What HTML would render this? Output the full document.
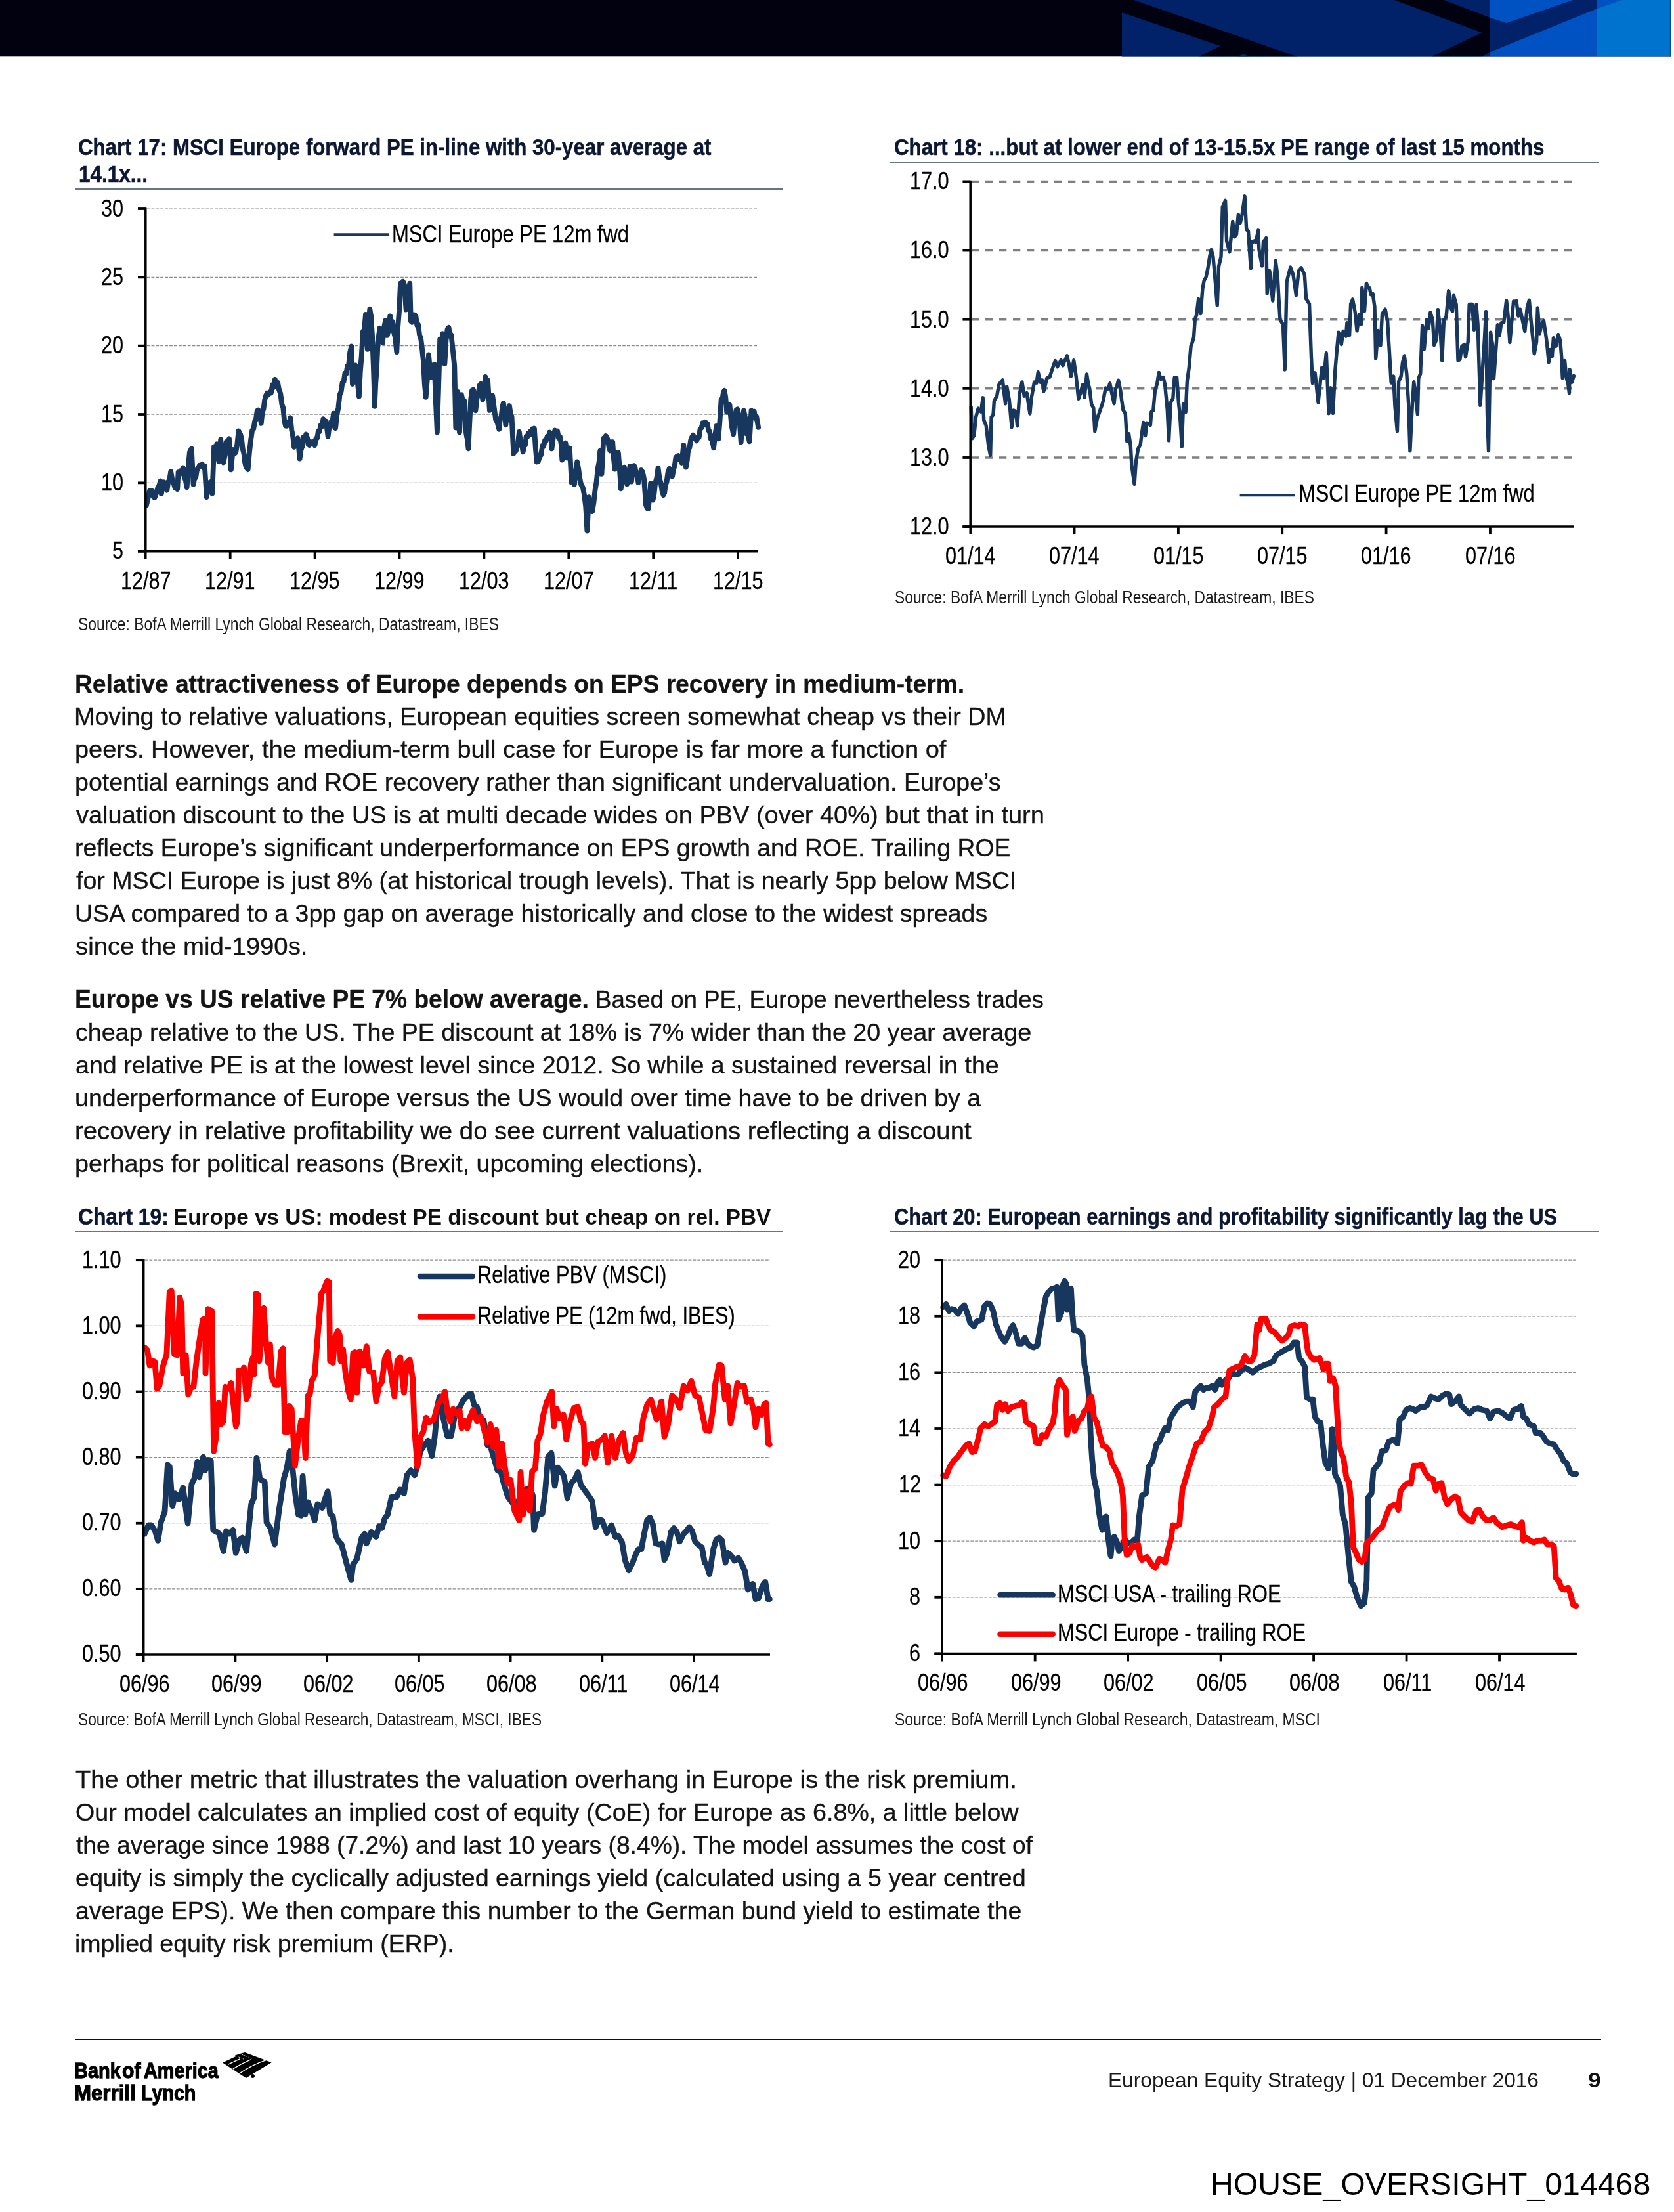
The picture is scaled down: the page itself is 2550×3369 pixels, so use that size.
<!DOCTYPE html>
<html><head><meta charset="utf-8"><title>European Equity Strategy - page 9</title>
<style>
html,body{margin:0;padding:0;background:#fff}
body{width:2550px;height:3369px;position:relative;overflow:hidden;font-family:"Liberation Sans",sans-serif}
.t{position:absolute;white-space:nowrap;line-height:1;transform-origin:0 0;display:block}
.hdr{position:absolute;left:0;top:0}
.charts{position:absolute;left:0;top:0}
.flag{position:absolute}
.rule{position:absolute}
.logo{-webkit-text-stroke:1.3px #000}
.ax{-webkit-text-stroke:0.3px #000}
.body{-webkit-text-stroke:0.35px #141414}
.ttl{-webkit-text-stroke:0.55px #0c1733}
#txt{position:absolute;left:0;top:0;width:2550px;height:3369px;will-change:transform}
</style></head><body>
<svg class="hdr" width="2550" height="87" viewBox="0 0 2550 87">
<rect x="0" y="0" width="2545" height="86.3" fill="#01010f"/>
<rect x="1709" y="0" width="561" height="86.3" fill="#012169"/>
<rect x="2270" y="0" width="162" height="86.3" fill="#0052c2"/>
<rect x="2432" y="0" width="113" height="86.3" fill="#0073cf"/>
<polygon points="1709,0 1727,0 1976,86.3 1826,86.3 1859,70 1709,19" fill="#01010f"/>
<polygon points="1885,86.3 1894,82 1903,86.3" fill="#012169"/>
<polygon points="2124.2,0 2199.5,0 2270,26.9 2270,79.3 2257,86.3 2180.6,86.3 2257.3,49.7" fill="#01010f"/>
<polygon points="2270,26.9 2294.9,34.9 2395.7,0 2432,0 2432,13.4 2270,79.3" fill="#012169"/>
<polygon points="2432,0 2471,0 2432,13.4" fill="#0052c2"/>
<rect x="1709" y="85.4" width="836" height="1.1" fill="#0a3f8f" opacity="0.8"/>
<rect x="2543.8" y="0" width="1.2" height="86.5" fill="#0a3f8f" opacity="0.8"/>
</svg>
<div class="rule" style="left:114px;top:287.2px;width:1079px;height:2px;background:#667682"></div>
<div class="rule" style="left:1356px;top:245.8px;width:1079px;height:2px;background:#667682"></div>
<div class="rule" style="left:114px;top:1874.9px;width:1079px;height:2px;background:#667682"></div>
<div class="rule" style="left:1356px;top:1874.9px;width:1079px;height:2px;background:#667682"></div>
<div class="rule" style="left:114px;top:3105px;width:2325px;height:2.2px;background:#0a0f2e"></div>
<svg class="charts" width="2550" height="3369" viewBox="0 0 2550 3369">
<line x1="223.60000000000002" y1="318.0" x2="1155" y2="318.0" stroke="#8c8c8c" stroke-width="1.25" stroke-dasharray="4.8,2.1"/>
<line x1="223.60000000000002" y1="422.34000000000003" x2="1155" y2="422.34000000000003" stroke="#8c8c8c" stroke-width="1.25" stroke-dasharray="4.8,2.1"/>
<line x1="223.60000000000002" y1="526.6800000000001" x2="1155" y2="526.6800000000001" stroke="#8c8c8c" stroke-width="1.25" stroke-dasharray="4.8,2.1"/>
<line x1="223.60000000000002" y1="631.02" x2="1155" y2="631.02" stroke="#8c8c8c" stroke-width="1.25" stroke-dasharray="4.8,2.1"/>
<line x1="223.60000000000002" y1="735.36" x2="1155" y2="735.36" stroke="#8c8c8c" stroke-width="1.25" stroke-dasharray="4.8,2.1"/>
<path d="M222.9,769.9 L225.8,757.5 L227.9,747.4 L230.1,746.9 L232.0,748.0 L233.9,757.0 L235.8,757.7 L238.7,749.2 L240.6,741.7 L242.5,739.2 L244.4,732.5 L245.8,752.1 L247.9,739.9 L250.1,734.4 L252.2,736.9 L254.4,746.7 L256.3,733.7 L258.3,730.4 L260.2,718.1 L262.4,730.6 L264.5,735.9 L266.4,742.5 L268.3,740.2 L270.2,745.0 L271.6,719.1 L273.4,722.6 L275.2,717.0 L277.0,718.8 L278.8,712.6 L280.7,726.2 L282.7,731.2 L284.6,742.1 L286.8,711.0 L288.9,688.8 L291.7,683.2 L294.6,737.9 L296.4,728.3 L298.2,727.3 L300.0,715.7 L301.8,713.3 L304.0,708.7 L306.1,709.1 L308.0,707.0 L309.9,712.7 L311.8,709.5 L314.7,757.1 L316.6,746.5 L318.5,744.8 L320.4,734.3 L323.3,751.7 L326.1,680.5 L328.2,683.3 L330.4,676.2 L333.3,702.6 L336.2,669.3 L338.4,691.0 L340.5,704.5 L342.6,693.3 L344.8,672.9 L347.0,674.4 L349.1,668.2 L351.9,715.4 L354.8,685.0 L357.0,691.3 L359.1,689.3 L361.2,677.8 L363.4,656.3 L366.3,661.9 L368.0,668.5 L369.7,684.0 L371.5,690.7 L373.2,704.9 L374.9,711.7 L377.7,715.0 L379.9,689.3 L382.0,670.6 L384.1,655.7 L386.3,653.2 L388.1,641.6 L389.9,638.7 L391.7,625.8 L393.5,624.6 L395.6,628.2 L397.8,644.9 L399.6,627.9 L401.4,623.2 L403.2,609.0 L405.0,602.7 L406.9,598.5 L408.8,601.3 L410.7,597.4 L412.9,598.4 L415.0,586.1 L416.9,590.0 L418.9,577.9 L420.8,583.5 L423.0,582.8 L425.1,593.8 L427.2,599.2 L429.4,615.9 L431.3,621.3 L433.2,641.1 L435.1,648.7 L436.9,648.9 L438.7,643.2 L440.5,644.2 L442.3,636.2 L444.2,654.4 L446.1,664.0 L448.0,680.9 L449.9,674.5 L451.8,675.8 L453.7,667.2 L456.6,698.6 L458.5,685.1 L460.4,680.1 L462.3,665.7 L464.2,668.9 L466.2,661.5 L468.1,666.9 L469.5,676.6 L471.4,678.0 L473.3,672.9 L475.2,674.3 L477.4,672.9 L479.5,678.2 L481.3,667.8 L483.1,667.4 L484.9,656.7 L486.7,657.1 L488.6,647.7 L490.5,649.5 L492.4,638.2 L494.5,645.2 L496.7,641.6 L499.6,664.7 L501.3,652.0 L503.0,651.4 L504.8,641.6 L506.5,640.9 L508.2,629.6 L511.1,652.1 L513.2,632.0 L515.4,620.9 L517.5,601.4 L519.7,596.0 L521.6,582.5 L523.5,581.6 L525.4,568.8 L527.3,569.6 L529.2,557.4 L531.1,556.2 L533.2,535.9 L535.4,527.6 L536.9,585.0 L539.0,577.9 L541.2,556.4 L543.1,576.0 L545.0,585.2 L546.9,603.7 L548.8,566.2 L550.8,541.1 L552.7,505.4 L554.9,501.8 L557.0,478.8 L559.8,531.8 L561.5,493.4 L563.3,470.6 L565.1,481.3 L567.0,510.6 L568.9,558.7 L570.7,618.8 L572.3,583.4 L574.0,559.7 L575.6,521.2 L578.5,499.8 L580.6,504.1 L582.8,522.1 L585.0,499.3 L587.1,488.4 L589.9,510.9 L592.0,502.4 L594.2,481.4 L596.1,493.9 L598.1,489.9 L600.0,506.3 L602.1,514.4 L604.3,536.2 L606.2,497.4 L608.1,473.0 L610.0,431.7 L611.9,439.9 L613.8,428.7 L615.7,432.6 L618.6,471.6 L620.5,462.0 L622.4,439.6 L624.3,431.6 L625.8,489.1 L627.7,490.9 L629.6,479.3 L631.5,479.6 L633.4,481.4 L635.3,495.5 L637.2,494.6 L639.1,510.4 L641.1,515.5 L643.0,531.3 L644.9,549.6 L646.8,584.8 L648.7,604.8 L650.9,577.3 L653.0,540.3 L655.1,564.0 L657.3,575.1 L659.5,571.7 L661.6,554.8 L663.8,611.7 L665.9,658.3 L668.0,592.4 L670.2,516.7 L672.4,519.7 L674.5,508.3 L677.4,554.0 L679.5,517.8 L681.7,500.9 L683.6,499.0 L685.5,511.2 L687.4,510.1 L690.0,535.2 L692.3,557.6 L694.3,651.5 L697.2,596.9 L700.0,658.4 L702.9,601.1 L705.0,610.7 L707.2,610.3 L710.1,659.8 L711.8,668.8 L713.5,683.3 L715.4,642.3 L717.2,607.9 L719.1,594.4 L721.0,593.6 L722.7,604.0 L724.4,625.3 L726.5,606.5 L728.7,599.2 L730.5,586.8 L732.4,584.7 L735.3,608.6 L737.3,598.9 L739.3,573.8 L741.1,583.0 L743.0,579.1 L745.9,624.9 L748.0,607.9 L750.2,602.4 L753.1,623.7 L755.2,639.5 L757.4,642.9 L760.3,653.8 L761.9,637.8 L763.5,635.1 L765.2,620.0 L766.8,614.0 L768.5,624.1 L770.3,647.3 L772.2,633.2 L774.1,629.4 L776.0,618.0 L777.8,631.1 L779.5,634.1 L782.3,691.0 L784.0,686.0 L785.8,686.8 L787.5,681.5 L789.2,673.5 L790.9,658.0 L792.8,671.8 L794.8,676.1 L796.7,688.3 L798.4,678.9 L800.0,677.9 L801.6,664.9 L803.3,665.5 L804.8,659.8 L806.3,661.9 L807.8,657.3 L809.4,661.8 L810.9,653.5 L812.4,657.9 L813.9,652.4 L815.8,682.2 L817.6,703.5 L819.8,703.1 L821.9,695.6 L824.0,693.2 L826.2,679.0 L828.1,679.9 L830.0,670.7 L831.9,670.9 L833.7,664.6 L835.5,667.3 L837.3,658.5 L839.1,661.1 L840.5,683.4 L843.4,661.9 L845.3,655.6 L847.2,661.5 L849.1,656.4 L851.0,667.0 L853.0,665.0 L854.9,677.1 L856.3,700.5 L858.0,694.1 L859.8,679.5 L861.5,674.6 L864.3,697.6 L866.0,695.1 L867.8,682.5 L870.6,734.9 L872.8,733.8 L874.9,738.1 L877.0,718.4 L879.2,703.4 L881.1,713.4 L883.1,728.1 L885.0,737.5 L887.8,742.6 L890.0,753.5 L892.2,771.2 L894.4,808.6 L897.0,757.1 L898.7,762.9 L900.5,774.7 L902.2,779.0 L904.4,765.7 L906.5,746.5 L908.6,733.8 L910.8,712.5 L912.5,704.4 L914.2,686.6 L916.5,721.9 L919.4,667.6 L921.1,672.7 L922.9,664.0 L924.6,666.5 L926.2,670.9 L927.8,682.7 L929.4,686.5 L931.3,684.7 L933.2,673.0 L934.9,698.7 L936.6,714.6 L938.3,708.6 L940.1,695.1 L941.8,688.9 L943.8,713.6 L945.8,744.3 L947.5,730.6 L949.2,725.5 L950.9,711.6 L953.0,727.1 L955.2,737.4 L957.4,727.2 L959.5,710.0 L961.8,733.7 L963.8,717.8 L965.8,709.1 L967.4,711.8 L969.1,722.5 L970.8,724.7 L972.4,735.1 L974.5,723.1 L976.7,715.9 L978.9,719.0 L981.0,729.1 L983.9,768.5 L985.8,774.2 L987.6,774.8 L989.4,757.2 L991.1,736.2 L992.8,752.3 L994.5,761.6 L996.4,752.4 L998.2,735.5 L1000.4,727.9 L1002.5,712.8 L1004.6,728.8 L1006.8,736.0 L1008.7,748.4 L1010.6,754.2 L1012.2,750.7 L1013.8,738.0 L1015.4,734.6 L1017.5,719.6 L1019.7,713.7 L1021.9,716.6 L1024.1,725.5 L1025.9,715.3 L1027.7,709.4 L1029.4,697.2 L1031.2,694.8 L1033.0,694.0 L1034.8,699.8 L1036.6,699.2 L1038.4,704.9 L1041.3,677.9 L1043.2,698.5 L1045.0,711.6 L1046.7,701.7 L1048.4,684.7 L1050.3,682.0 L1052.3,669.8 L1054.2,665.4 L1055.9,662.6 L1057.6,668.2 L1059.4,665.9 L1061.1,671.4 L1062.8,666.1 L1064.7,666.2 L1066.6,653.3 L1068.5,651.9 L1070.3,644.3 L1072.1,647.6 L1073.9,642.8 L1075.7,644.0 L1077.5,645.4 L1079.2,655.4 L1081.0,657.2 L1082.8,668.5 L1084.9,670.5 L1087.1,682.4 L1089.2,663.2 L1091.4,649.0 L1094.3,668.4 L1096.4,642.7 L1098.6,608.7 L1100.2,610.0 L1101.9,597.2 L1103.5,594.9 L1105.3,605.5 L1107.2,627.9 L1109.3,617.5 L1111.5,616.8 L1114.4,648.3 L1117.2,661.4 L1119.3,637.3 L1121.5,624.6 L1123.4,623.3 L1125.3,633.9 L1127.0,648.3 L1128.7,673.6 L1130.8,643.6 L1133.0,625.3 L1135.2,636.6 L1137.3,660.7 L1139.4,661.0 L1141.6,672.2 L1144.5,625.3 L1146.7,629.5 L1148.8,626.7 L1150.5,637.0 L1152.2,634.1 L1155.1,650.9" fill="none" stroke="#17375e" stroke-width="7.8" stroke-linejoin="round" stroke-linecap="round"/>
<line x1="221.8" y1="316.4" x2="221.8" y2="851.7" stroke="#000" stroke-width="3.5"/>
<line x1="210.0" y1="839.7" x2="1155" y2="839.7" stroke="#000" stroke-width="3.5"/>
<line x1="210.0" y1="318.0" x2="221.8" y2="318.0" stroke="#000" stroke-width="3.8"/>
<line x1="210.0" y1="422.34000000000003" x2="221.8" y2="422.34000000000003" stroke="#000" stroke-width="3.8"/>
<line x1="210.0" y1="526.6800000000001" x2="221.8" y2="526.6800000000001" stroke="#000" stroke-width="3.8"/>
<line x1="210.0" y1="631.02" x2="221.8" y2="631.02" stroke="#000" stroke-width="3.8"/>
<line x1="210.0" y1="735.36" x2="221.8" y2="735.36" stroke="#000" stroke-width="3.8"/>
<line x1="210.0" y1="839.7" x2="221.8" y2="839.7" stroke="#000" stroke-width="3.8"/>
<line x1="350.70000000000005" y1="839.7" x2="350.70000000000005" y2="851.7" stroke="#000" stroke-width="3.8"/>
<line x1="479.6" y1="839.7" x2="479.6" y2="851.7" stroke="#000" stroke-width="3.8"/>
<line x1="608.5" y1="839.7" x2="608.5" y2="851.7" stroke="#000" stroke-width="3.8"/>
<line x1="737.4000000000001" y1="839.7" x2="737.4000000000001" y2="851.7" stroke="#000" stroke-width="3.8"/>
<line x1="866.3" y1="839.7" x2="866.3" y2="851.7" stroke="#000" stroke-width="3.8"/>
<line x1="995.2" y1="839.7" x2="995.2" y2="851.7" stroke="#000" stroke-width="3.8"/>
<line x1="1124.1000000000001" y1="839.7" x2="1124.1000000000001" y2="851.7" stroke="#000" stroke-width="3.8"/>
<line x1="508.6" y1="357.3" x2="593" y2="357.3" stroke="#17375e" stroke-width="4.2"/>
<line x1="1480.0" y1="276.4" x2="2397.2" y2="276.4" stroke="#7f7f7f" stroke-width="3.4" stroke-dasharray="11.3,9.7"/>
<line x1="1480.0" y1="381.53999999999996" x2="2397.2" y2="381.53999999999996" stroke="#7f7f7f" stroke-width="3.4" stroke-dasharray="11.3,9.7"/>
<line x1="1480.0" y1="486.68" x2="2397.2" y2="486.68" stroke="#7f7f7f" stroke-width="3.4" stroke-dasharray="11.3,9.7"/>
<line x1="1480.0" y1="591.8199999999999" x2="2397.2" y2="591.8199999999999" stroke="#7f7f7f" stroke-width="3.4" stroke-dasharray="11.3,9.7"/>
<line x1="1480.0" y1="696.96" x2="2397.2" y2="696.96" stroke="#7f7f7f" stroke-width="3.4" stroke-dasharray="11.3,9.7"/>
<path d="M1479.2,619.9 L1480.9,667.8 L1483.8,663.3 L1486.6,635.3 L1490.1,622.1 L1492.2,624.9 L1494.4,627.1 L1497.2,605.6 L1498.7,639.9 L1502.1,648.0 L1505.8,679.5 L1508.7,693.5 L1510.1,635.3 L1513.0,631.8 L1514.4,610.6 L1516.6,606.5 L1518.7,602.4 L1521.6,586.3 L1524.4,582.0 L1527.3,578.9 L1529.4,597.1 L1531.6,614.9 L1533.7,588.8 L1537.4,609.3 L1541.1,650.8 L1544.0,624.9 L1547.4,626.6 L1549.7,648.8 L1553.2,599.5 L1556.9,581.9 L1560.3,603.2 L1564.1,598.5 L1566.5,614.4 L1568.9,630.0 L1570.9,607.8 L1573.2,595.0 L1575.5,582.1 L1579.0,583.2 L1581.3,566.7 L1584.7,582.2 L1587.6,578.8 L1589.9,595.9 L1592.3,586.5 L1594.7,576.1 L1596.8,574.7 L1599.0,574.4 L1601.9,565.2 L1604.8,556.6 L1607.6,549.6 L1610.5,558.7 L1613.3,554.4 L1616.2,548.4 L1619.1,556.9 L1621.2,551.1 L1623.3,547.0 L1625.4,541.8 L1628.3,554.0 L1631.4,573.0 L1633.6,561.0 L1635.7,548.8 L1639.2,573.0 L1642.9,607.4 L1646.3,597.1 L1649.2,586.2 L1652.1,605.1 L1655.5,570.0 L1657.8,584.8 L1659.8,592.0 L1662.7,616.0 L1665.8,621.4 L1667.8,656.9 L1670.0,644.1 L1672.2,634.7 L1674.3,629.4 L1676.5,622.7 L1678.7,617.1 L1680.8,609.1 L1684.2,591.0 L1687.9,592.2 L1690.8,583.9 L1693.7,598.9 L1697.1,614.7 L1699.4,592.3 L1701.6,587.0 L1703.7,579.2 L1706.6,593.2 L1708.8,610.3 L1710.9,624.3 L1714.3,630.2 L1716.6,671.7 L1719.5,660.7 L1722.3,679.3 L1723.8,707.9 L1725.9,722.8 L1728.1,737.3 L1730.4,703.0 L1733.8,683.1 L1737.2,677.1 L1739.5,659.0 L1741.8,643.4 L1744.7,663.5 L1746.7,644.1 L1749.6,645.5 L1752.4,647.4 L1753.9,627.0 L1756.7,625.4 L1759.6,593.6 L1762.5,585.1 L1765.3,567.5 L1768.2,577.5 L1771.9,574.7 L1774.5,585.2 L1778.2,623.4 L1780.5,671.0 L1783.4,613.1 L1786.8,606.4 L1789.1,575.0 L1792.6,574.6 L1795.4,613.3 L1797.5,633.9 L1800.3,680.2 L1802.6,615.2 L1806.1,627.9 L1808.4,580.2 L1811.2,560.5 L1814.1,527.2 L1816.2,521.7 L1818.4,514.3 L1820.4,486.1 L1822.7,479.6 L1825.6,455.5 L1829.0,477.6 L1831.9,439.4 L1834.2,427.3 L1837.0,422.5 L1839.9,408.9 L1842.8,390.3 L1845.1,380.5 L1847.9,391.1 L1850.8,423.2 L1854.2,465.3 L1856.5,405.8 L1860.0,391.2 L1862.3,314.8 L1864.4,310.3 L1866.6,305.4 L1868.6,366.9 L1870.8,375.4 L1872.9,383.9 L1875.3,361.6 L1877.7,337.4 L1880.6,360.9 L1883.5,356.9 L1886.3,326.8 L1889.2,339.7 L1892.1,326.8 L1894.1,313.0 L1896.1,298.8 L1898.7,349.4 L1901.5,352.3 L1905.3,408.6 L1906.4,368.5 L1908.6,368.7 L1910.8,366.8 L1913.0,368.7 L1916.7,350.8 L1917.9,380.2 L1920.2,392.7 L1922.5,405.1 L1924.5,367.7 L1926.7,365.7 L1928.8,362.5 L1930.2,447.3 L1933.9,412.4 L1936.3,435.5 L1938.8,458.1 L1940.9,428.1 L1943.1,397.2 L1946.0,418.5 L1948.0,454.8 L1950.0,486.8 L1952.2,490.6 L1954.4,494.3 L1957.2,563.0 L1960.1,429.4 L1962.9,417.9 L1965.8,407.1 L1967.9,412.6 L1970.1,419.5 L1972.2,433.8 L1974.4,449.8 L1978.2,412.5 L1980.2,410.4 L1982.2,407.9 L1984.8,413.2 L1987.3,418.7 L1989.6,455.0 L1992.0,458.7 L1994.5,462.7 L1997.4,542.5 L1999.4,583.5 L2003.1,567.8 L2005.5,589.4 L2008.0,613.0 L2011.7,577.6 L2013.7,559.7 L2016.6,575.7 L2020.3,537.7 L2024.1,629.7 L2026.9,590.7 L2030.4,629.5 L2033.8,564.2 L2036.7,530.0 L2039.0,506.1 L2041.2,515.4 L2043.3,524.6 L2046.1,504.4 L2048.2,509.2 L2050.4,512.1 L2051.9,491.7 L2055.6,510.7 L2057.6,463.0 L2060.5,455.9 L2064.2,475.4 L2067.1,503.9 L2070.5,478.8 L2073.4,494.2 L2074.8,438.3 L2078.5,473.7 L2081.4,431.4 L2083.9,436.3 L2086.3,438.8 L2088.3,448.7 L2091.1,447.3 L2094.0,467.2 L2095.7,546.1 L2099.2,503.4 L2102.9,526.3 L2105.5,478.4 L2107.8,474.2 L2110.1,471.1 L2113.5,487.7 L2116.4,535.6 L2119.2,583.0 L2122.7,573.0 L2125.0,619.5 L2128.4,656.8 L2130.7,580.9 L2134.2,573.0 L2136.5,552.2 L2139.3,541.9 L2142.8,569.4 L2145.6,614.1 L2147.9,686.7 L2150.8,626.5 L2153.7,581.8 L2156.5,602.3 L2159.4,631.2 L2160.8,576.2 L2163.7,569.3 L2166.6,495.9 L2169.4,531.8 L2173.2,487.2 L2176.0,500.1 L2178.9,475.9 L2182.3,487.3 L2184.6,525.5 L2188.1,517.2 L2190.4,471.5 L2193.8,500.2 L2196.7,549.3 L2199.5,486.9 L2203.0,482.7 L2206.7,442.6 L2209.6,467.5 L2212.4,474.2 L2214.4,450.3 L2218.2,463.8 L2221.0,549.0 L2223.9,547.6 L2226.8,527.7 L2230.5,524.7 L2232.5,543.6 L2236.2,520.4 L2238.2,463.5 L2240.3,463.4 L2242.5,463.3 L2245.4,502.4 L2248.9,464.2 L2251.1,493.6 L2254.9,617.4 L2258.3,563.3 L2261.2,519.5 L2263.5,474.5 L2265.5,630.9 L2267.5,686.6 L2269.2,584.7 L2270.6,506.1 L2273.5,525.0 L2275.5,576.5 L2278.4,537.3 L2281.3,494.7 L2284.1,510.9 L2287.0,491.6 L2290.7,491.1 L2292.7,474.2 L2294.7,457.7 L2297.0,478.8 L2299.9,521.6 L2302.8,489.1 L2305.6,459.0 L2307.8,459.3 L2309.9,458.4 L2312.8,481.2 L2315.7,471.1 L2319.4,488.7 L2322.8,504.4 L2326.3,468.7 L2329.4,457.3 L2332.3,489.9 L2334.9,514.7 L2337.2,538.7 L2340.6,520.6 L2342.3,468.9 L2345.2,508.1 L2348.1,494.6 L2351.5,488.7 L2354.4,507.7 L2356.4,522.8 L2359.2,551.8 L2361.5,532.5 L2364.4,542.7 L2366.4,514.6 L2370.1,527.4 L2373.9,509.6 L2376.7,518.8 L2378.7,543.1 L2380.2,575.6 L2383.6,549.4 L2385.9,574.7 L2388.8,585.3 L2390.5,598.8 L2391.1,562.6 L2394.5,582.3 L2397.4,572.6" fill="none" stroke="#17375e" stroke-width="5.4" stroke-linejoin="round" stroke-linecap="round"/>
<line x1="1478.2" y1="274.79999999999995" x2="1478.2" y2="814.1" stroke="#000" stroke-width="3.5"/>
<line x1="1466.4" y1="802.1" x2="2397.2" y2="802.1" stroke="#000" stroke-width="3.5"/>
<line x1="1466.4" y1="276.4" x2="1478.2" y2="276.4" stroke="#000" stroke-width="3.8"/>
<line x1="1466.4" y1="381.53999999999996" x2="1478.2" y2="381.53999999999996" stroke="#000" stroke-width="3.8"/>
<line x1="1466.4" y1="486.68" x2="1478.2" y2="486.68" stroke="#000" stroke-width="3.8"/>
<line x1="1466.4" y1="591.8199999999999" x2="1478.2" y2="591.8199999999999" stroke="#000" stroke-width="3.8"/>
<line x1="1466.4" y1="696.96" x2="1478.2" y2="696.96" stroke="#000" stroke-width="3.8"/>
<line x1="1466.4" y1="802.1" x2="1478.2" y2="802.1" stroke="#000" stroke-width="3.8"/>
<line x1="1636.55" y1="802.1" x2="1636.55" y2="814.1" stroke="#000" stroke-width="3.8"/>
<line x1="1794.9" y1="802.1" x2="1794.9" y2="814.1" stroke="#000" stroke-width="3.8"/>
<line x1="1953.25" y1="802.1" x2="1953.25" y2="814.1" stroke="#000" stroke-width="3.8"/>
<line x1="2111.6" y1="802.1" x2="2111.6" y2="814.1" stroke="#000" stroke-width="3.8"/>
<line x1="2269.95" y1="802.1" x2="2269.95" y2="814.1" stroke="#000" stroke-width="3.8"/>
<line x1="1888.6" y1="754.2" x2="1972.4" y2="754.2" stroke="#17375e" stroke-width="4.2"/>
<line x1="220.5" y1="1919.2" x2="1173" y2="1919.2" stroke="#8c8c8c" stroke-width="1.25" stroke-dasharray="4.8,2.1"/>
<line x1="220.5" y1="2019.3333333333335" x2="1173" y2="2019.3333333333335" stroke="#8c8c8c" stroke-width="1.25" stroke-dasharray="4.8,2.1"/>
<line x1="220.5" y1="2119.4666666666667" x2="1173" y2="2119.4666666666667" stroke="#8c8c8c" stroke-width="1.25" stroke-dasharray="4.8,2.1"/>
<line x1="220.5" y1="2219.6" x2="1173" y2="2219.6" stroke="#8c8c8c" stroke-width="1.25" stroke-dasharray="4.8,2.1"/>
<line x1="220.5" y1="2319.7333333333336" x2="1173" y2="2319.7333333333336" stroke="#8c8c8c" stroke-width="1.25" stroke-dasharray="4.8,2.1"/>
<line x1="220.5" y1="2419.866666666667" x2="1173" y2="2419.866666666667" stroke="#8c8c8c" stroke-width="1.25" stroke-dasharray="4.8,2.1"/>
<path d="M220.2,2336.1 L226.1,2323.0 L230.5,2323.0 L236.3,2331.8 L240.7,2346.4 L245.1,2318.6 L251.0,2302.5 L255.4,2230.8 L258.3,2233.7 L262.7,2293.7 L267.1,2274.7 L272.9,2283.5 L278.8,2265.9 L286.1,2320.0 L292.0,2260.0 L296.4,2251.3 L300.7,2226.4 L303.7,2249.8 L309.5,2219.1 L312.5,2239.5 L316.8,2223.4 L321.2,2224.9 L324.7,2330.3 L330.0,2333.2 L334.4,2336.1 L340.3,2362.5 L344.6,2331.8 L349.0,2336.1 L354.9,2330.3 L359.3,2365.4 L365.1,2344.9 L369.5,2342.0 L375.4,2362.5 L382.7,2290.8 L387.1,2280.5 L390.9,2220.5 L395.9,2252.7 L403.2,2257.1 L406.1,2318.6 L412.0,2327.4 L418.4,2352.2 L425.1,2299.6 L432.5,2251.3 L436.9,2236.6 L441.2,2210.3 L445.6,2235.2 L450.0,2277.6 L454.4,2306.9 L458.8,2308.3 L461.1,2248.3 L464.7,2306.9 L469.1,2287.8 L473.4,2298.1 L479.3,2315.7 L483.7,2290.8 L491.0,2296.6 L493.9,2286.4 L499.2,2271.7 L502.7,2305.4 L507.1,2309.8 L511.5,2339.1 L515.9,2347.9 L520.3,2352.2 L527.6,2380.1 L534.9,2406.4 L537.8,2383.0 L543.7,2374.2 L551.0,2342.0 L555.4,2336.1 L558.3,2350.8 L565.6,2333.2 L573.0,2340.5 L577.4,2324.4 L581.7,2327.4 L586.1,2312.7 L590.5,2306.9 L596.4,2280.5 L603.7,2280.5 L609.6,2268.8 L615.4,2274.7 L619.8,2246.9 L625.7,2239.5 L631.5,2246.9 L635.9,2232.2 L640.3,2210.3 L646.1,2201.5 L652.0,2194.2 L657.9,2217.6 L662.2,2188.3 L666.6,2140.0 L669.6,2126.9 L675.4,2160.5 L681.3,2186.9 L687.1,2186.9 L693.0,2154.7 L700.0,2143.0 L700.3,2144.4 L704.6,2134.2 L713.4,2123.9 L717.8,2122.5 L722.2,2140.0 L726.6,2143.0 L731.0,2160.5 L736.8,2163.4 L742.7,2201.5 L747.1,2203.0 L751.5,2217.6 L757.9,2239.5 L763.2,2242.5 L766.7,2257.1 L773.4,2279.1 L780.7,2289.3 L786.6,2292.2 L792.5,2280.5 L801.2,2268.8 L807.1,2265.9 L811.5,2277.6 L813.5,2330.3 L818.8,2306.9 L826.1,2305.4 L830.5,2271.7 L834.9,2219.1 L839.9,2213.2 L845.1,2263.0 L849.5,2235.2 L854.5,2241.0 L859.2,2248.3 L864.2,2282.0 L870.0,2258.6 L875.0,2254.2 L880.3,2242.5 L884.7,2261.5 L892.0,2271.7 L896.4,2277.6 L902.2,2286.4 L907.2,2325.9 L912.5,2314.2 L916.9,2315.7 L924.2,2334.7 L931.5,2323.0 L937.3,2340.5 L941.7,2339.1 L947.6,2349.3 L952.0,2375.7 L957.8,2391.8 L963.7,2380.1 L968.1,2368.3 L972.5,2359.6 L976.9,2359.6 L981.3,2336.1 L985.6,2315.7 L990.0,2311.3 L994.4,2321.5 L998.8,2350.8 L1004.7,2352.2 L1009.1,2350.8 L1012.0,2375.7 L1016.4,2365.4 L1022.2,2333.2 L1026.6,2327.4 L1031.0,2333.2 L1035.4,2347.9 L1041.3,2336.1 L1045.6,2331.8 L1050.0,2325.9 L1054.4,2331.8 L1058.8,2347.9 L1064.7,2353.7 L1069.1,2356.6 L1073.5,2380.1 L1076.4,2383.0 L1080.8,2397.6 L1086.6,2359.6 L1091.0,2344.9 L1095.4,2342.0 L1099.8,2346.4 L1105.1,2380.1 L1108.6,2365.4 L1113.0,2368.3 L1118.8,2377.1 L1124.7,2372.7 L1129.1,2380.1 L1134.9,2393.2 L1139.3,2421.0 L1143.7,2415.2 L1146.6,2412.3 L1151.0,2435.7 L1155.4,2434.2 L1161.3,2415.2 L1165.7,2409.3 L1170.1,2435.7 L1172.4,2435.7" fill="none" stroke="#17375e" stroke-width="8.8" stroke-linejoin="round" stroke-linecap="round"/>
<path d="M220.2,2052.2 L224.6,2056.6 L228.1,2080.0 L232.0,2072.7 L235.8,2074.2 L239.3,2115.1 L242.8,2110.8 L248.1,2081.5 L253.9,2062.5 L258.3,1967.3 L261.2,1965.9 L265.6,2062.5 L270.0,2063.9 L273.8,1976.1 L276.7,1987.8 L278.8,2091.7 L283.2,2063.9 L286.7,2123.9 L290.5,2113.7 L294.9,2112.2 L299.3,2072.7 L304.3,2039.0 L308.9,2009.8 L312.5,2008.3 L313.0,2091.7 L316.8,1993.7 L322.7,1996.6 L325.6,2210.3 L328.5,2192.7 L332.9,2137.1 L336.5,2169.3 L340.3,2164.9 L343.2,2112.2 L348.2,2115.1 L352.0,2106.4 L359.3,2172.2 L361.6,2164.9 L363.7,2087.3 L368.1,2090.3 L371.6,2082.9 L375.4,2131.2 L378.3,2123.9 L382.7,2075.6 L385.6,2066.8 L387.1,2093.2 L390.0,1970.3 L392.9,1971.7 L395.0,2072.7 L398.8,2025.9 L401.7,1992.2 L405.5,2047.8 L408.5,2075.6 L411.4,2047.8 L414.3,2099.0 L419.3,2109.3 L423.7,2109.3 L428.1,2058.1 L431.0,2053.7 L433.9,2181.0 L437.7,2181.0 L440.7,2141.5 L444.2,2145.9 L449.4,2232.2 L454.4,2189.8 L458.8,2163.4 L462.3,2163.4 L465.2,2220.5 L469.1,2125.4 L472.0,2123.9 L474.9,2103.4 L479.3,2094.7 L483.7,2037.6 L489.5,1970.3 L492.5,1965.9 L498.3,1951.2 L501.3,1952.7 L502.7,2072.7 L507.1,2075.6 L510.0,2037.6 L514.4,2027.3 L517.4,2033.2 L518.8,2072.7 L522.6,2055.1 L526.1,2090.3 L530.5,2118.1 L534.3,2131.2 L537.8,2061.0 L540.8,2059.5 L543.7,2121.0 L548.1,2058.1 L553.9,2080.0 L558.3,2050.7 L562.7,2088.8 L568.6,2090.3 L573.0,2134.2 L577.4,2110.8 L581.7,2104.9 L586.1,2069.8 L590.5,2059.5 L594.9,2087.3 L600.8,2126.9 L605.2,2072.7 L609.6,2066.8 L615.4,2121.0 L619.8,2075.6 L624.2,2071.2 L628.6,2099.0 L631.5,2178.1 L635.9,2233.7 L640.3,2188.3 L644.7,2181.0 L649.1,2159.1 L653.5,2166.4 L660.8,2162.0 L666.6,2140.0 L672.5,2131.2 L677.8,2119.5 L681.3,2148.8 L685.7,2164.9 L690.1,2145.9 L694.4,2151.7 L700.0,2157.6 L700.3,2148.8 L700.6,2154.7 L703.2,2175.2 L707.6,2163.4 L712.0,2175.2 L716.3,2157.6 L720.7,2147.3 L726.6,2164.9 L732.4,2157.6 L738.3,2181.0 L742.7,2197.1 L747.1,2169.3 L751.5,2204.4 L755.9,2178.1 L760.3,2233.7 L764.6,2198.6 L769.0,2233.7 L773.4,2260.0 L777.8,2254.2 L783.7,2301.0 L791.0,2315.7 L793.0,2242.5 L796.8,2306.9 L802.7,2271.7 L807.1,2301.0 L810.6,2241.0 L815.3,2236.6 L818.8,2194.2 L823.2,2183.9 L827.6,2154.7 L833.4,2134.2 L840.7,2119.5 L843.7,2172.2 L848.1,2145.9 L852.5,2160.5 L858.3,2154.7 L862.7,2192.7 L868.6,2163.4 L874.4,2144.4 L880.3,2143.0 L884.7,2163.4 L889.0,2169.3 L891.4,2229.3 L896.4,2201.5 L902.2,2198.6 L906.6,2220.5 L911.0,2195.6 L916.9,2192.7 L921.2,2186.9 L925.6,2227.8 L931.5,2186.9 L937.3,2220.5 L943.2,2192.7 L949.1,2182.5 L953.4,2213.2 L957.8,2224.9 L963.7,2217.6 L969.5,2189.8 L975.4,2192.7 L979.8,2160.5 L985.6,2140.0 L991.5,2131.2 L997.4,2153.2 L1000.3,2162.0 L1007.6,2134.2 L1012.0,2188.3 L1017.8,2169.3 L1023.7,2125.4 L1029.5,2131.2 L1035.4,2144.4 L1041.3,2110.8 L1047.1,2118.1 L1053.0,2103.4 L1058.8,2125.4 L1064.7,2128.3 L1069.1,2148.8 L1074.9,2178.1 L1080.8,2179.5 L1086.6,2143.0 L1089.6,2107.8 L1095.4,2078.6 L1099.2,2080.0 L1104.2,2131.2 L1108.6,2110.8 L1113.0,2167.8 L1117.4,2143.0 L1123.2,2106.4 L1127.6,2112.2 L1133.5,2110.8 L1137.9,2135.6 L1143.7,2131.2 L1148.1,2148.8 L1151.0,2173.7 L1155.4,2145.9 L1159.8,2154.7 L1164.2,2138.6 L1167.1,2137.1 L1170.1,2198.6 L1172.4,2200.0" fill="none" stroke="#ff0000" stroke-width="8.8" stroke-linejoin="round" stroke-linecap="round"/>
<line x1="218.7" y1="1917.6000000000001" x2="218.7" y2="2532.0" stroke="#000" stroke-width="3.5"/>
<line x1="206.89999999999998" y1="2520.0" x2="1173" y2="2520.0" stroke="#000" stroke-width="3.5"/>
<line x1="206.89999999999998" y1="1919.2" x2="218.7" y2="1919.2" stroke="#000" stroke-width="3.8"/>
<line x1="206.89999999999998" y1="2019.3333333333335" x2="218.7" y2="2019.3333333333335" stroke="#000" stroke-width="3.8"/>
<line x1="206.89999999999998" y1="2119.4666666666667" x2="218.7" y2="2119.4666666666667" stroke="#000" stroke-width="3.8"/>
<line x1="206.89999999999998" y1="2219.6" x2="218.7" y2="2219.6" stroke="#000" stroke-width="3.8"/>
<line x1="206.89999999999998" y1="2319.7333333333336" x2="218.7" y2="2319.7333333333336" stroke="#000" stroke-width="3.8"/>
<line x1="206.89999999999998" y1="2419.866666666667" x2="218.7" y2="2419.866666666667" stroke="#000" stroke-width="3.8"/>
<line x1="206.89999999999998" y1="2520.0" x2="218.7" y2="2520.0" stroke="#000" stroke-width="3.8"/>
<line x1="358.41999999999996" y1="2520.0" x2="358.41999999999996" y2="2532.0" stroke="#000" stroke-width="3.8"/>
<line x1="498.14" y1="2520.0" x2="498.14" y2="2532.0" stroke="#000" stroke-width="3.8"/>
<line x1="637.8599999999999" y1="2520.0" x2="637.8599999999999" y2="2532.0" stroke="#000" stroke-width="3.8"/>
<line x1="777.5799999999999" y1="2520.0" x2="777.5799999999999" y2="2532.0" stroke="#000" stroke-width="3.8"/>
<line x1="917.3" y1="2520.0" x2="917.3" y2="2532.0" stroke="#000" stroke-width="3.8"/>
<line x1="1057.02" y1="2520.0" x2="1057.02" y2="2532.0" stroke="#000" stroke-width="3.8"/>
<line x1="639.8" y1="1944" x2="720" y2="1944" stroke="#17375e" stroke-width="8.4" stroke-linecap="round"/>
<line x1="639.8" y1="2005.5" x2="720" y2="2005.5" stroke="#ff0000" stroke-width="8.4" stroke-linecap="round"/>
<line x1="1437.0" y1="1919.2" x2="2401.9" y2="1919.2" stroke="#8c8c8c" stroke-width="1.25" stroke-dasharray="4.8,2.1"/>
<line x1="1437.0" y1="2004.8" x2="2401.9" y2="2004.8" stroke="#8c8c8c" stroke-width="1.25" stroke-dasharray="4.8,2.1"/>
<line x1="1437.0" y1="2090.4" x2="2401.9" y2="2090.4" stroke="#8c8c8c" stroke-width="1.25" stroke-dasharray="4.8,2.1"/>
<line x1="1437.0" y1="2176.0" x2="2401.9" y2="2176.0" stroke="#8c8c8c" stroke-width="1.25" stroke-dasharray="4.8,2.1"/>
<line x1="1437.0" y1="2261.6" x2="2401.9" y2="2261.6" stroke="#8c8c8c" stroke-width="1.25" stroke-dasharray="4.8,2.1"/>
<line x1="1437.0" y1="2347.2" x2="2401.9" y2="2347.2" stroke="#8c8c8c" stroke-width="1.25" stroke-dasharray="4.8,2.1"/>
<line x1="1437.0" y1="2432.8" x2="2401.9" y2="2432.8" stroke="#8c8c8c" stroke-width="1.25" stroke-dasharray="4.8,2.1"/>
<path d="M1436.7,1990.7 L1441.1,1986.4 L1445.5,1996.6 L1449.9,1993.7 L1454.3,1995.1 L1459.5,2001.0 L1464.5,1992.2 L1468.9,1987.8 L1473.3,1999.5 L1477.7,2014.2 L1483.5,2020.0 L1487.9,2012.7 L1495.3,2009.8 L1499.6,1989.3 L1504.0,1984.9 L1508.4,1986.4 L1512.8,1996.6 L1517.2,2017.1 L1521.6,2028.8 L1526.0,2037.6 L1530.4,2043.4 L1534.8,2036.1 L1539.2,2024.4 L1543.0,2018.5 L1547.4,2030.3 L1551.5,2046.4 L1556.7,2046.4 L1561.1,2037.6 L1565.5,2046.4 L1569.9,2050.7 L1574.3,2052.2 L1580.1,2049.3 L1584.5,2022.9 L1588.9,1996.6 L1593.3,1974.6 L1597.7,1967.3 L1602.1,1962.9 L1607.9,1961.5 L1610.0,1960.0 L1612.3,2009.8 L1616.7,1999.5 L1619.1,1957.1 L1621.7,1951.2 L1624.6,1955.6 L1625.5,1995.1 L1628.4,1962.9 L1631.4,1962.9 L1633.4,1999.5 L1635.8,2025.9 L1640.1,2025.9 L1644.5,2028.8 L1648.9,2034.6 L1651.9,2078.6 L1656.2,2100.5 L1659.2,2131.2 L1661.5,2189.8 L1663.6,2222.0 L1666.5,2251.3 L1670.9,2271.7 L1673.8,2301.0 L1676.7,2318.6 L1679.1,2330.3 L1682.0,2312.7 L1684.9,2309.8 L1688.4,2344.9 L1692.0,2369.8 L1694.3,2344.9 L1697.2,2340.5 L1701.6,2349.3 L1704.5,2362.5 L1708.9,2355.2 L1713.3,2344.9 L1717.7,2349.3 L1722.1,2350.8 L1728.0,2344.9 L1732.4,2346.4 L1735.3,2309.8 L1739.7,2277.6 L1745.5,2274.7 L1749.9,2233.7 L1755.8,2224.9 L1761.6,2200.0 L1766.0,2195.6 L1770.4,2183.9 L1774.8,2175.2 L1779.2,2178.1 L1782.7,2160.5 L1788.0,2151.7 L1793.8,2143.0 L1801.1,2137.1 L1807.0,2134.2 L1812.8,2134.2 L1817.2,2143.0 L1820.7,2119.5 L1824.6,2115.1 L1828.9,2110.8 L1833.3,2116.6 L1837.7,2113.7 L1842.1,2113.7 L1846.5,2110.8 L1850.9,2116.6 L1855.3,2104.9 L1858.2,2102.0 L1861.1,2109.3 L1867.0,2102.0 L1871.4,2099.0 L1875.8,2090.3 L1881.6,2093.2 L1886.0,2093.2 L1890.4,2087.3 L1896.3,2082.9 L1902.1,2085.9 L1908.0,2090.3 L1915.0,2084.4 L1920.9,2081.5 L1926.7,2078.6 L1932.6,2077.1 L1939.9,2072.7 L1944.3,2063.9 L1951.6,2059.5 L1958.9,2055.1 L1966.2,2052.2 L1970.6,2044.9 L1975.9,2044.9 L1978.8,2068.3 L1983.8,2074.2 L1987.6,2081.5 L1990.5,2128.3 L1995.5,2131.2 L1999.9,2131.2 L2002.8,2157.6 L2007.2,2164.9 L2011.6,2166.4 L2014.5,2195.6 L2018.9,2227.8 L2023.3,2236.6 L2027.1,2222.0 L2029.2,2176.6 L2031.2,2192.7 L2033.5,2245.4 L2037.9,2254.2 L2041.5,2263.0 L2045.3,2306.9 L2049.6,2321.5 L2054.0,2368.3 L2058.4,2409.3 L2062.8,2416.6 L2067.2,2432.7 L2073.1,2445.9 L2078.3,2441.5 L2081.8,2409.3 L2084.2,2280.5 L2089.2,2274.7 L2092.1,2239.5 L2096.5,2233.7 L2100.9,2227.8 L2104.7,2210.3 L2111.1,2208.8 L2115.5,2195.6 L2122.8,2192.7 L2128.7,2198.6 L2132.2,2162.0 L2137.5,2157.6 L2141.9,2147.3 L2147.7,2144.4 L2152.1,2145.9 L2156.5,2148.8 L2163.8,2143.0 L2169.7,2143.0 L2174.1,2140.0 L2179.9,2126.9 L2185.8,2129.8 L2191.6,2131.2 L2197.5,2125.4 L2203.3,2122.5 L2207.7,2123.9 L2210.6,2138.6 L2216.5,2134.2 L2222.4,2126.9 L2225.3,2140.0 L2231.1,2145.9 L2238.4,2153.2 L2245.8,2145.9 L2251.6,2144.4 L2257.5,2147.3 L2264.8,2148.8 L2269.8,2160.5 L2275.0,2150.3 L2282.4,2148.8 L2288.2,2151.7 L2295.5,2157.6 L2299.9,2160.5 L2305.8,2147.3 L2311.6,2145.9 L2317.5,2141.5 L2320.4,2157.6 L2324.8,2160.5 L2329.2,2169.3 L2336.5,2172.2 L2339.4,2182.5 L2346.8,2182.5 L2351.1,2188.3 L2355.5,2195.6 L2361.4,2198.6 L2367.2,2200.0 L2371.6,2207.4 L2377.5,2214.7 L2381.9,2224.9 L2386.3,2227.8 L2392.1,2242.5 L2396.5,2245.4 L2400.9,2244.8" fill="none" stroke="#17375e" stroke-width="8.8" stroke-linejoin="round" stroke-linecap="round"/>
<path d="M1436.7,2246.9 L1441.1,2248.3 L1447.0,2233.7 L1452.8,2224.9 L1458.7,2219.1 L1466.0,2208.8 L1471.8,2201.5 L1476.2,2198.6 L1480.6,2211.7 L1485.0,2210.3 L1489.4,2194.2 L1493.8,2175.2 L1499.6,2169.3 L1505.5,2172.2 L1509.9,2169.3 L1515.7,2164.9 L1518.7,2140.0 L1523.1,2137.1 L1526.9,2147.3 L1531.0,2138.6 L1535.6,2148.8 L1540.6,2143.0 L1546.5,2141.5 L1552.3,2140.0 L1556.7,2135.6 L1560.2,2138.6 L1562.6,2164.9 L1568.4,2169.3 L1574.3,2172.2 L1577.8,2197.1 L1583.1,2198.6 L1587.5,2185.4 L1593.3,2188.3 L1597.7,2176.6 L1603.6,2167.8 L1606.5,2151.7 L1609.4,2115.1 L1613.8,2102.0 L1618.2,2109.3 L1623.5,2116.6 L1625.5,2185.4 L1629.9,2162.0 L1634.3,2157.6 L1637.2,2179.5 L1643.1,2163.4 L1647.5,2160.5 L1651.9,2148.8 L1656.2,2145.9 L1659.2,2131.2 L1662.7,2126.9 L1666.5,2159.1 L1670.9,2166.4 L1675.3,2185.4 L1679.7,2201.5 L1685.5,2204.4 L1689.9,2210.3 L1693.7,2227.8 L1698.7,2236.6 L1703.1,2245.4 L1707.5,2260.0 L1710.4,2277.6 L1713.3,2347.9 L1716.3,2368.3 L1720.6,2365.4 L1725.0,2353.7 L1729.4,2356.6 L1733.8,2352.2 L1736.7,2371.3 L1739.7,2375.7 L1747.0,2371.3 L1752.8,2380.1 L1757.2,2385.9 L1760.2,2387.4 L1766.0,2374.2 L1770.4,2375.7 L1774.8,2380.1 L1779.2,2361.0 L1783.6,2344.9 L1786.5,2323.0 L1790.9,2324.4 L1796.7,2321.5 L1801.1,2268.8 L1805.5,2254.2 L1811.4,2233.7 L1817.2,2216.1 L1823.1,2198.6 L1828.9,2195.6 L1834.8,2181.0 L1840.7,2175.2 L1846.5,2157.6 L1849.4,2143.0 L1855.3,2138.6 L1861.1,2131.2 L1867.0,2126.9 L1869.9,2102.0 L1872.9,2087.3 L1878.7,2084.4 L1884.6,2081.5 L1890.4,2080.0 L1896.3,2065.4 L1900.7,2072.7 L1906.5,2072.7 L1910.9,2063.9 L1915.0,2017.1 L1917.9,2025.9 L1921.4,2008.3 L1928.2,2008.3 L1931.1,2017.1 L1935.5,2025.9 L1941.3,2028.8 L1947.2,2036.1 L1953.1,2042.0 L1958.9,2037.6 L1963.3,2031.7 L1966.2,2020.0 L1972.1,2018.5 L1977.9,2020.0 L1981.7,2017.1 L1987.6,2018.5 L1990.5,2046.4 L1992.6,2059.5 L1997.0,2066.8 L2001.4,2071.2 L2005.7,2069.8 L2010.1,2068.3 L2016.0,2085.9 L2018.9,2077.1 L2023.3,2077.1 L2026.2,2103.4 L2030.6,2099.0 L2034.4,2110.8 L2037.4,2163.4 L2039.4,2195.6 L2042.3,2210.3 L2046.7,2222.0 L2051.1,2251.3 L2054.9,2257.1 L2058.4,2289.3 L2061.4,2356.6 L2065.7,2365.4 L2070.1,2375.7 L2074.5,2378.6 L2078.9,2374.2 L2081.8,2350.8 L2087.7,2344.9 L2093.6,2337.6 L2099.4,2330.3 L2105.3,2325.9 L2111.1,2309.8 L2117.0,2295.2 L2122.8,2292.2 L2127.2,2292.2 L2130.1,2299.6 L2133.1,2271.7 L2138.9,2263.0 L2144.8,2258.6 L2149.2,2260.0 L2153.6,2232.2 L2159.4,2232.2 L2165.3,2230.8 L2171.1,2242.5 L2177.0,2251.3 L2182.8,2252.7 L2187.2,2270.3 L2191.6,2260.0 L2196.0,2258.6 L2200.4,2280.5 L2204.8,2290.8 L2210.6,2283.5 L2216.5,2279.1 L2220.9,2282.0 L2225.3,2303.9 L2231.1,2309.8 L2237.0,2315.7 L2242.8,2317.1 L2248.7,2301.0 L2253.1,2299.6 L2258.9,2309.8 L2264.8,2315.7 L2269.2,2315.7 L2275.0,2311.3 L2279.4,2318.6 L2288.2,2325.9 L2295.5,2323.0 L2301.4,2321.5 L2307.2,2324.4 L2313.1,2325.9 L2318.4,2318.6 L2320.4,2346.4 L2324.8,2342.0 L2330.7,2346.4 L2336.5,2349.3 L2342.4,2346.4 L2348.2,2346.4 L2352.6,2344.9 L2357.0,2352.2 L2362.9,2352.2 L2367.2,2355.2 L2370.2,2403.5 L2374.6,2407.9 L2379.0,2419.6 L2383.3,2421.0 L2388.6,2418.1 L2392.1,2426.9 L2396.5,2444.4 L2400.9,2445.9" fill="none" stroke="#ff0000" stroke-width="8.8" stroke-linejoin="round" stroke-linecap="round"/>
<line x1="1435.2" y1="1917.6000000000001" x2="1435.2" y2="2530.4" stroke="#000" stroke-width="3.5"/>
<line x1="1423.4" y1="2518.4" x2="2401.9" y2="2518.4" stroke="#000" stroke-width="3.5"/>
<line x1="1423.4" y1="1919.2" x2="1435.2" y2="1919.2" stroke="#000" stroke-width="3.8"/>
<line x1="1423.4" y1="2004.8" x2="1435.2" y2="2004.8" stroke="#000" stroke-width="3.8"/>
<line x1="1423.4" y1="2090.4" x2="1435.2" y2="2090.4" stroke="#000" stroke-width="3.8"/>
<line x1="1423.4" y1="2176.0" x2="1435.2" y2="2176.0" stroke="#000" stroke-width="3.8"/>
<line x1="1423.4" y1="2261.6" x2="1435.2" y2="2261.6" stroke="#000" stroke-width="3.8"/>
<line x1="1423.4" y1="2347.2" x2="1435.2" y2="2347.2" stroke="#000" stroke-width="3.8"/>
<line x1="1423.4" y1="2432.8" x2="1435.2" y2="2432.8" stroke="#000" stroke-width="3.8"/>
<line x1="1423.4" y1="2518.4" x2="1435.2" y2="2518.4" stroke="#000" stroke-width="3.8"/>
<line x1="1576.67" y1="2518.4" x2="1576.67" y2="2530.4" stroke="#000" stroke-width="3.8"/>
<line x1="1718.14" y1="2518.4" x2="1718.14" y2="2530.4" stroke="#000" stroke-width="3.8"/>
<line x1="1859.6100000000001" y1="2518.4" x2="1859.6100000000001" y2="2530.4" stroke="#000" stroke-width="3.8"/>
<line x1="2001.08" y1="2518.4" x2="2001.08" y2="2530.4" stroke="#000" stroke-width="3.8"/>
<line x1="2142.55" y1="2518.4" x2="2142.55" y2="2530.4" stroke="#000" stroke-width="3.8"/>
<line x1="2284.02" y1="2518.4" x2="2284.02" y2="2530.4" stroke="#000" stroke-width="3.8"/>
<line x1="1523.4" y1="2429.3" x2="1603.8" y2="2429.3" stroke="#17375e" stroke-width="8.4" stroke-linecap="round"/>
<line x1="1523.4" y1="2488.7" x2="1603.8" y2="2488.7" stroke="#ff0000" stroke-width="8.4" stroke-linecap="round"/>
</svg>
<div id="txt">
<span class="t ax" style="left:153.6px;top:298.5px;font-size:37.5px;transform:scaleX(0.8150);color:#000;">30</span>
<span class="t ax" style="left:153.6px;top:402.8px;font-size:37.5px;transform:scaleX(0.8150);color:#000;">25</span>
<span class="t ax" style="left:153.6px;top:507.1px;font-size:37.5px;transform:scaleX(0.8150);color:#000;">20</span>
<span class="t ax" style="left:153.6px;top:611.5px;font-size:37.5px;transform:scaleX(0.8150);color:#000;">15</span>
<span class="t ax" style="left:153.6px;top:715.8px;font-size:37.5px;transform:scaleX(0.8150);color:#000;">10</span>
<span class="t ax" style="left:170.6px;top:820.2px;font-size:37.5px;transform:scaleX(0.8150);color:#000;">5</span>
<span class="t ax" style="left:183.9px;top:866.3px;font-size:37.5px;transform:scaleX(0.8150);color:#000;">12/87</span>
<span class="t ax" style="left:312.4px;top:866.3px;font-size:37.5px;transform:scaleX(0.8150);color:#000;">12/91</span>
<span class="t ax" style="left:441.3px;top:866.3px;font-size:37.5px;transform:scaleX(0.8150);color:#000;">12/95</span>
<span class="t ax" style="left:570.2px;top:866.3px;font-size:37.5px;transform:scaleX(0.8150);color:#000;">12/99</span>
<span class="t ax" style="left:699.1px;top:866.3px;font-size:37.5px;transform:scaleX(0.8150);color:#000;">12/03</span>
<span class="t ax" style="left:828.4px;top:866.3px;font-size:37.5px;transform:scaleX(0.8150);color:#000;">12/07</span>
<span class="t ax" style="left:958.0px;top:866.3px;font-size:37.5px;transform:scaleX(0.8150);color:#000;">12/11</span>
<span class="t ax" style="left:1085.8px;top:866.3px;font-size:37.5px;transform:scaleX(0.8150);color:#000;">12/15</span>
<span class="t ax" style="left:596.5px;top:337.7px;font-size:37.5px;transform:scaleX(0.8248);color:#000;">MSCI Europe PE 12m fwd</span>
<span class="t ax" style="left:1385.6px;top:257.3px;font-size:37.5px;transform:scaleX(0.8150);color:#000;">17.0</span>
<span class="t ax" style="left:1385.6px;top:362.4px;font-size:37.5px;transform:scaleX(0.8150);color:#000;">16.0</span>
<span class="t ax" style="left:1385.6px;top:467.5px;font-size:37.5px;transform:scaleX(0.8150);color:#000;">15.0</span>
<span class="t ax" style="left:1385.6px;top:572.7px;font-size:37.5px;transform:scaleX(0.8150);color:#000;">14.0</span>
<span class="t ax" style="left:1385.6px;top:677.8px;font-size:37.5px;transform:scaleX(0.8150);color:#000;">13.0</span>
<span class="t ax" style="left:1385.6px;top:783.0px;font-size:37.5px;transform:scaleX(0.8150);color:#000;">12.0</span>
<span class="t ax" style="left:1439.9px;top:827.5px;font-size:37.5px;transform:scaleX(0.8150);color:#000;">01/14</span>
<span class="t ax" style="left:1598.3px;top:827.5px;font-size:37.5px;transform:scaleX(0.8150);color:#000;">07/14</span>
<span class="t ax" style="left:1756.6px;top:827.5px;font-size:37.5px;transform:scaleX(0.8150);color:#000;">01/15</span>
<span class="t ax" style="left:1915.0px;top:827.5px;font-size:37.5px;transform:scaleX(0.8150);color:#000;">07/15</span>
<span class="t ax" style="left:2073.3px;top:827.5px;font-size:37.5px;transform:scaleX(0.8150);color:#000;">01/16</span>
<span class="t ax" style="left:2231.7px;top:827.5px;font-size:37.5px;transform:scaleX(0.8150);color:#000;">07/16</span>
<span class="t ax" style="left:1977.7px;top:733.3px;font-size:37.5px;transform:scaleX(0.8214);color:#000;">MSCI Europe PE 12m fwd</span>
<span class="t ax" style="left:125.0px;top:1899.5px;font-size:37.5px;transform:scaleX(0.8150);color:#000;">1.10</span>
<span class="t ax" style="left:125.0px;top:1999.6px;font-size:37.5px;transform:scaleX(0.8150);color:#000;">1.00</span>
<span class="t ax" style="left:125.0px;top:2099.7px;font-size:37.5px;transform:scaleX(0.8150);color:#000;">0.90</span>
<span class="t ax" style="left:125.0px;top:2199.9px;font-size:37.5px;transform:scaleX(0.8150);color:#000;">0.80</span>
<span class="t ax" style="left:125.0px;top:2300.0px;font-size:37.5px;transform:scaleX(0.8150);color:#000;">0.70</span>
<span class="t ax" style="left:125.0px;top:2400.1px;font-size:37.5px;transform:scaleX(0.8150);color:#000;">0.60</span>
<span class="t ax" style="left:125.0px;top:2500.3px;font-size:37.5px;transform:scaleX(0.8150);color:#000;">0.50</span>
<span class="t ax" style="left:181.8px;top:2546.1px;font-size:37.5px;transform:scaleX(0.8150);color:#000;">06/96</span>
<span class="t ax" style="left:321.5px;top:2546.1px;font-size:37.5px;transform:scaleX(0.8150);color:#000;">06/99</span>
<span class="t ax" style="left:461.6px;top:2546.1px;font-size:37.5px;transform:scaleX(0.8150);color:#000;">06/02</span>
<span class="t ax" style="left:601.0px;top:2546.1px;font-size:37.5px;transform:scaleX(0.8150);color:#000;">06/05</span>
<span class="t ax" style="left:740.7px;top:2546.1px;font-size:37.5px;transform:scaleX(0.8150);color:#000;">06/08</span>
<span class="t ax" style="left:881.5px;top:2546.1px;font-size:37.5px;transform:scaleX(0.8150);color:#000;">06/11</span>
<span class="t ax" style="left:1020.1px;top:2546.1px;font-size:37.5px;transform:scaleX(0.8150);color:#000;">06/14</span>
<span class="t ax" style="left:726.8px;top:1923.0px;font-size:37.5px;transform:scaleX(0.8232);color:#000;">Relative PBV (MSCI)</span>
<span class="t ax" style="left:726.8px;top:1984.7px;font-size:37.5px;transform:scaleX(0.8192);color:#000;">Relative PE (12m fwd, IBES)</span>
<span class="t ax" style="left:1367.9px;top:1899.5px;font-size:37.5px;transform:scaleX(0.8150);color:#000;">20</span>
<span class="t ax" style="left:1367.9px;top:1985.1px;font-size:37.5px;transform:scaleX(0.8150);color:#000;">18</span>
<span class="t ax" style="left:1367.9px;top:2070.7px;font-size:37.5px;transform:scaleX(0.8150);color:#000;">16</span>
<span class="t ax" style="left:1367.9px;top:2156.3px;font-size:37.5px;transform:scaleX(0.8150);color:#000;">14</span>
<span class="t ax" style="left:1368.7px;top:2241.9px;font-size:37.5px;transform:scaleX(0.8150);color:#000;">12</span>
<span class="t ax" style="left:1367.9px;top:2327.5px;font-size:37.5px;transform:scaleX(0.8150);color:#000;">10</span>
<span class="t ax" style="left:1384.9px;top:2413.1px;font-size:37.5px;transform:scaleX(0.8150);color:#000;">8</span>
<span class="t ax" style="left:1384.9px;top:2498.7px;font-size:37.5px;transform:scaleX(0.8150);color:#000;">6</span>
<span class="t ax" style="left:1398.1px;top:2544.1px;font-size:37.5px;transform:scaleX(0.8150);color:#000;">06/96</span>
<span class="t ax" style="left:1539.6px;top:2544.1px;font-size:37.5px;transform:scaleX(0.8150);color:#000;">06/99</span>
<span class="t ax" style="left:1681.4px;top:2544.1px;font-size:37.5px;transform:scaleX(0.8150);color:#000;">06/02</span>
<span class="t ax" style="left:1822.5px;top:2544.1px;font-size:37.5px;transform:scaleX(0.8150);color:#000;">06/05</span>
<span class="t ax" style="left:1964.0px;top:2544.1px;font-size:37.5px;transform:scaleX(0.8150);color:#000;">06/08</span>
<span class="t ax" style="left:2106.6px;top:2544.1px;font-size:37.5px;transform:scaleX(0.8150);color:#000;">06/11</span>
<span class="t ax" style="left:2246.9px;top:2544.1px;font-size:37.5px;transform:scaleX(0.8150);color:#000;">06/14</span>
<span class="t ax" style="left:1610.7px;top:2408.6px;font-size:37.5px;transform:scaleX(0.8209);color:#000;">MSCI USA - trailing ROE</span>
<span class="t ax" style="left:1610.7px;top:2467.8px;font-size:37.5px;transform:scaleX(0.8207);color:#000;">MSCI Europe - trailing ROE</span>
<span class="t ttl" style="left:118.8px;top:206.9px;font-size:35.5px;transform:scaleX(0.8793);color:#0c1733;font-weight:700;">Chart 17: MSCI Europe forward PE in-line with 30-year average at</span>
<span class="t ttl" style="left:119.7px;top:248.2px;font-size:35.5px;transform:scaleX(0.8860);color:#0c1733;font-weight:700;">14.1x...</span>
<span class="t ttl" style="left:1361.8px;top:207.1px;font-size:35.5px;transform:scaleX(0.8808);color:#0c1733;font-weight:700;">Chart 18: ...but at lower end of 13-15.5x PE range of last 15 months</span>
<span class="t ttl" style="left:118.8px;top:1836.1px;font-size:35.5px;transform:scaleX(0.8950);color:#0c1733;font-weight:700;">Chart 19:</span>
<span class="t" style="left:263.5px;top:1838.0px;font-size:32.6px;transform:scaleX(1.0221);color:#111;font-weight:700;">Europe vs US: modest PE discount but cheap on rel. PBV</span>
<span class="t ttl" style="left:1361.8px;top:1836.1px;font-size:35.5px;transform:scaleX(0.8695);color:#0c1733;font-weight:700;">Chart 20: European earnings and profitability significantly lag the US</span>
<span class="t src" style="left:118.9px;top:937.3px;font-size:27.5px;transform:scaleX(0.8315);color:#1c1c1c;">Source: BofA Merrill Lynch Global Research, Datastream, IBES</span>
<span class="t src" style="left:1362.6px;top:896.0px;font-size:27.5px;transform:scaleX(0.8288);color:#1c1c1c;">Source: BofA Merrill Lynch Global Research, Datastream, IBES</span>
<span class="t src" style="left:118.9px;top:2604.9px;font-size:27.5px;transform:scaleX(0.8260);color:#1c1c1c;">Source: BofA Merrill Lynch Global Research, Datastream, MSCI, IBES</span>
<span class="t src" style="left:1362.6px;top:2604.9px;font-size:27.5px;transform:scaleX(0.8340);color:#1c1c1c;">Source: BofA Merrill Lynch Global Research, Datastream, MSCI</span>
<span class="t body" style="left:114.1px;top:1023.0px;font-size:38.8px;transform:scaleX(0.9581);color:#141414;font-weight:700;">Relative attractiveness of Europe depends on EPS recovery in medium-term.</span>
<span class="t body" style="left:113.0px;top:1073.3px;font-size:37.3px;transform:scaleX(1.0102);color:#141414;">Moving to relative valuations, European equities screen somewhat cheap vs their DM</span>
<span class="t body" style="left:114.0px;top:1123.3px;font-size:37.3px;transform:scaleX(1.0180);color:#141414;">peers. However, the medium-term bull case for Europe is far more a function of</span>
<span class="t body" style="left:114.0px;top:1173.3px;font-size:37.3px;transform:scaleX(1.0069);color:#141414;">potential earnings and ROE recovery rather than significant undervaluation. Europe’s</span>
<span class="t body" style="left:116.0px;top:1223.3px;font-size:37.3px;transform:scaleX(1.0177);color:#141414;">valuation discount to the US is at multi decade wides on PBV (over 40%) but that in turn</span>
<span class="t body" style="left:114.0px;top:1273.3px;font-size:37.3px;transform:scaleX(1.0013);color:#141414;">reflects Europe’s significant underperformance on EPS growth and ROE. Trailing ROE</span>
<span class="t body" style="left:116.0px;top:1323.3px;font-size:37.3px;transform:scaleX(1.0077);color:#141414;">for MSCI Europe is just 8% (at historical trough levels). That is nearly 5pp below MSCI</span>
<span class="t body" style="left:114.0px;top:1373.3px;font-size:37.3px;transform:scaleX(1.0053);color:#141414;">USA compared to a 3pp gap on average historically and close to the widest spreads</span>
<span class="t body" style="left:115.0px;top:1423.3px;font-size:37.3px;transform:scaleX(1.0271);color:#141414;">since the mid-1990s.</span>
<span class="t body" style="left:114.1px;top:1503.4px;font-size:38.8px;transform:scaleX(0.9579);color:#141414;font-weight:700;">Europe vs US relative PE 7% below average.</span>
<span class="t body" style="left:907.1px;top:1504.2px;font-size:37.3px;transform:scaleX(0.9832);color:#141414;">Based on PE, Europe nevertheless trades</span>
<span class="t body" style="left:115.0px;top:1554.1px;font-size:37.3px;transform:scaleX(1.0081);color:#141414;">cheap relative to the US. The PE discount at 18% is 7% wider than the 20 year average</span>
<span class="t body" style="left:115.0px;top:1604.1px;font-size:37.3px;transform:scaleX(1.0082);color:#141414;">and relative PE is at the lowest level since 2012. So while a sustained reversal in the</span>
<span class="t body" style="left:114.0px;top:1654.1px;font-size:37.3px;transform:scaleX(1.0072);color:#141414;">underperformance of Europe versus the US would over time have to be driven by a</span>
<span class="t body" style="left:113.9px;top:1704.1px;font-size:37.3px;transform:scaleX(1.0277);color:#141414;">recovery in relative profitability we do see current valuations reflecting a discount</span>
<span class="t body" style="left:114.0px;top:1754.1px;font-size:37.3px;transform:scaleX(1.0104);color:#141414;">perhaps for political reasons (Brexit, upcoming elections).</span>
<span class="t body" style="left:115.1px;top:2691.6px;font-size:37.3px;transform:scaleX(1.0217);color:#141414;">The other metric that illustrates the valuation overhang in Europe is the risk premium.</span>
<span class="t body" style="left:115.0px;top:2741.6px;font-size:37.3px;transform:scaleX(1.0088);color:#141414;">Our model calculates an implied cost of equity (CoE) for Europe as 6.8%, a little below</span>
<span class="t body" style="left:116.0px;top:2791.6px;font-size:37.3px;transform:scaleX(0.9973);color:#141414;">the average since 1988 (7.2%) and last 10 years (8.4%). The model assumes the cost of</span>
<span class="t body" style="left:115.0px;top:2841.6px;font-size:37.3px;transform:scaleX(1.0091);color:#141414;">equity is simply the cyclically adjusted earnings yield (calculated using a 5 year centred</span>
<span class="t body" style="left:115.0px;top:2891.6px;font-size:37.3px;transform:scaleX(1.0037);color:#141414;">average EPS). We then compare this number to the German bund yield to estimate the</span>
<span class="t body" style="left:114.0px;top:2941.6px;font-size:37.3px;transform:scaleX(1.0064);color:#141414;">implied equity risk premium (ERP).</span>
<span class="t" style="left:1688.3px;top:3152.4px;font-size:32px;transform:scaleX(0.9895);color:#1a1a1a;">European Equity Strategy | 01 December 2016</span>
<span class="t" style="left:2418.8px;top:3152.4px;font-size:32px;transform:scaleX(1.1062);color:#111;font-weight:700;">9</span>
<span class="t" style="left:1844.3px;top:3302.1px;font-size:48.7px;transform:scaleX(0.9907);color:#000;">HOUSE_OVERSIGHT_014468</span>
<span class="t logo" style="left:113.2px;top:3135.6px;font-size:34px;transform:scaleX(0.8507);color:#000;font-weight:700;">Bank</span>
<span class="t logo" style="left:186.4px;top:3135.6px;font-size:34px;transform:scaleX(0.8877);color:#000;font-weight:700;">of</span>
<span class="t logo" style="left:218.7px;top:3135.6px;font-size:34px;transform:scaleX(0.8471);color:#000;font-weight:700;">America</span>
<span class="t logo" style="left:113.1px;top:3169.6px;font-size:34px;transform:scaleX(0.9180);color:#000;font-weight:700;">Merrill</span>
<span class="t logo" style="left:214.8px;top:3169.6px;font-size:34px;transform:scaleX(0.8434);color:#000;font-weight:700;">Lynch</span>
</div>
<svg class="flag" style="left:330px;top:3115px" width="100" height="60" viewBox="0 0 1674 1004">
<polygon points="150,445 480,290 470,260 640,205 720,185 1400,440 750,835" fill="#000"/>
<g stroke="#fff" stroke-width="24" fill="none" stroke-linecap="butt">
<path d="M290,492 Q430,420 600,345"/>
<path d="M415,605 Q620,470 870,365"/>
<path d="M605,705 Q900,500 1260,378"/>
</g>
<g stroke="#fff" stroke-width="14" fill="none" stroke-dasharray="30,28">
<path d="M560,300 L700,360"/>
<path d="M650,240 L900,340"/>
</g>
<circle cx="920" cy="785" r="50" fill="#000"/>
</svg>
</body></html>
